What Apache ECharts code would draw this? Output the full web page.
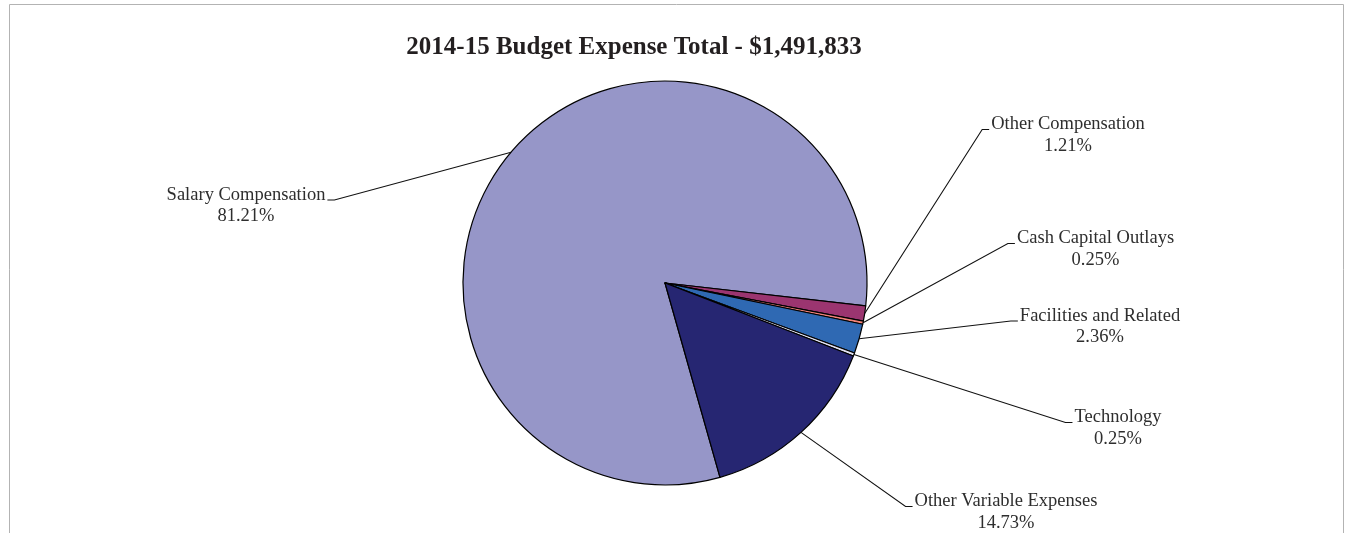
<!DOCTYPE html>
<html><head><meta charset="utf-8">
<script src="https://cdn.jsdelivr.net/npm/echarts@6/dist/echarts.min.js"></script>
<style>html,body{margin:0;padding:0;background:#fff;} #c{width:1345px;height:533px;}</style>
</head><body><div id="c"></div>
<script>
// ---- data ----
const categories = ['Salary Compensation','Other Compensation','Cash Capital Outlays','Facilities and Related','Technology','Other Variable Expenses'];
const percentValues = [81.21, 1.21, 0.25, 2.36, 0.25, 14.73];
const titleText = '2014-15 Budget Expense Total - $1,491,833';

// ---- styles / layout ----
const sliceColors = ['#9696C8','#9B3570','#F2837A','#2F69B3','#E2E2F2','#262672'];
const labelAnchors = [
  {x:246,    y:205.5, side:'left'},
  {x:1068,   y:135,   side:'right'},
  {x:1095.5, y:249,   side:'right'},
  {x:1100,   y:326.5, side:'right'},
  {x:1118,   y:428,   side:'right'},
  {x:1006,   y:512,   side:'right'}
];

const chart = echarts.init(document.getElementById('c'));
chart.setOption({
  animation: false,
  backgroundColor: '#fff',
  graphic: [{
    type: 'rect', silent: true, z: -1,
    shape: {x: 9.5, y: 4.5, width: 1334, height: 560},
    style: {fill: 'none', stroke: '#B3B3B3', lineWidth: 1}
  }],
  title: {
    text: titleText, left: 634, top: 35, textAlign: 'center', padding: 0,
    textStyle: {fontFamily: 'Liberation Serif', fontWeight: 'bold', fontSize: 25, color: '#231F20'}
  },
  series: [{
    type: 'pie',
    center: [665, 283],
    radius: 202,
    startAngle: 285.8,
    clockwise: true,
    avoidLabelOverlap: false,
    emphasis: {disabled: true},
    data: categories.map((n, i) => ({name: n, value: percentValues[i], itemStyle: {color: sliceColors[i]}})),
    itemStyle: {borderColor: '#000', borderWidth: 1.2},
    label: {
      show: true, position: 'outside',
      formatter: p => p.name + '\n' + p.value.toFixed(2) + '%',
      fontFamily: 'Liberation Serif', fontSize: 18.5, lineHeight: 21.5, color: '#2E2E2E'
    },
    labelLine: {show: true, length: 10, length2: 10, smooth: false, lineStyle: {color: '#111', width: 1.1}},
    labelLayout: function (params) {
      const a = labelAnchors[params.dataIndex];
      const w = params.labelRect.width;
      const pts = params.labelLinePoints;
      const ty = a.y - 5.5;
      let tickEnd, tickStart;
      if (a.side === 'right') { tickEnd = [a.x - w / 2 - 2, ty]; tickStart = [tickEnd[0] - 7, ty]; }
      else { tickEnd = [a.x + w / 2 + 2, ty]; tickStart = [tickEnd[0] + 7, ty]; }
      const res = {x: a.x, y: a.y, align: 'center', verticalAlign: 'middle', hideOverlap: false};
      if (pts && pts[0]) res.labelLinePoints = [pts[0], tickStart, tickEnd];
      return res;
    }
  }]
});
</script></body></html>
